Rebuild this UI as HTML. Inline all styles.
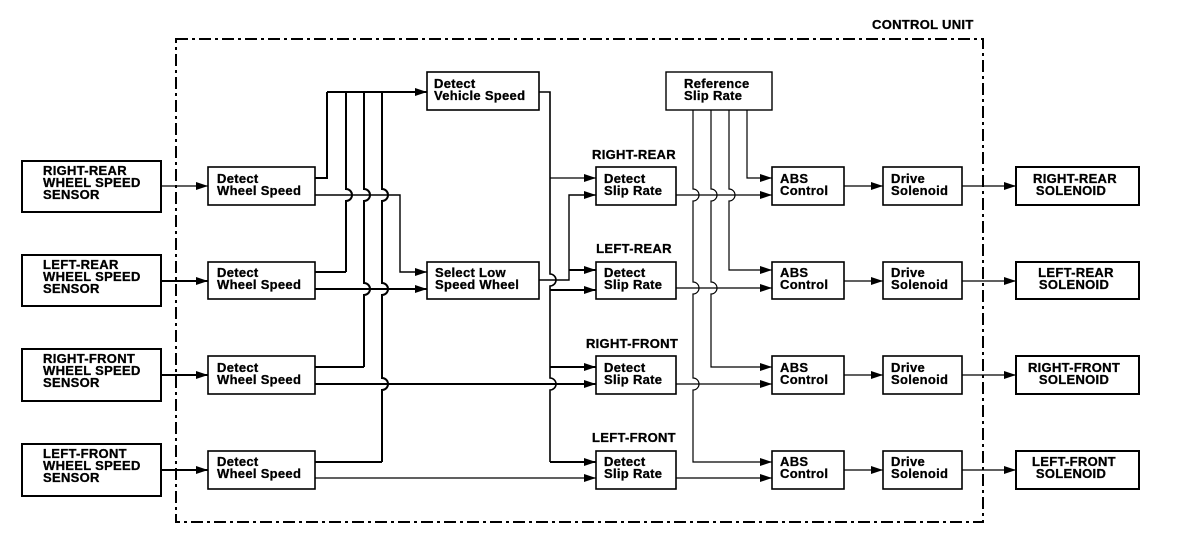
<!DOCTYPE html>
<html><head><meta charset="utf-8"><style>
html,body{margin:0;padding:0;background:#fff;}
svg{display:block;}
text{font-family:"Liberation Sans",sans-serif;font-weight:bold;font-size:13px;fill:#000;stroke:#000;stroke-width:0.3px;letter-spacing:0.3px;}
</style></head><body>
<svg width="1184" height="552" viewBox="0 0 1184 552" xmlns="http://www.w3.org/2000/svg">
<defs>
<marker id="a" viewBox="0 0 12 8" refX="12" refY="4" markerWidth="12" markerHeight="8" markerUnits="userSpaceOnUse" orient="auto"><polygon points="0,0 12,4 0,8" fill="#000"/></marker>
</defs>
<rect x="0" y="0" width="1184" height="552" fill="#fff"/>
<rect x="176" y="39" width="807" height="483" fill="none" stroke="#000" stroke-width="2" stroke-dasharray="12,4,3,4"/>
<text x="872" y="29">CONTROL UNIT</text>

<g fill="none" stroke="#000" stroke-width="2">
<rect x="22" y="161" width="139" height="51"/>
<rect x="22" y="255" width="139" height="51"/>
<rect x="22" y="349" width="139" height="52"/>
<rect x="22" y="444" width="139" height="52"/>
<rect x="208" y="167" width="107" height="38" stroke-width="1.6"/>
<rect x="208" y="262" width="107" height="37" stroke-width="1.6"/>
<rect x="208" y="356" width="107" height="38" stroke-width="1.6"/>
<rect x="208" y="451" width="107" height="38" stroke-width="1.6"/>
<rect x="427" y="72" width="112" height="38" stroke-width="1.6"/>
<rect x="427" y="262" width="112" height="37" stroke-width="1.6"/>
<rect x="666" y="72" width="106" height="38" stroke-width="1.4"/>
<rect x="596" y="167" width="80" height="38" stroke-width="1.6"/>
<rect x="596" y="262" width="80" height="37" stroke-width="1.6"/>
<rect x="596" y="356" width="80" height="38" stroke-width="1.6"/>
<rect x="596" y="451" width="80" height="38" stroke-width="1.6"/>
<rect x="772" y="167" width="72" height="38" stroke-width="1.6"/>
<rect x="772" y="262" width="72" height="37" stroke-width="1.6"/>
<rect x="772" y="356" width="72" height="38" stroke-width="1.6"/>
<rect x="772" y="451" width="72" height="38" stroke-width="1.6"/>
<rect x="883" y="167" width="79" height="38" stroke-width="1.6"/>
<rect x="883" y="262" width="79" height="37" stroke-width="1.6"/>
<rect x="883" y="356" width="79" height="38" stroke-width="1.6"/>
<rect x="883" y="451" width="79" height="38" stroke-width="1.6"/>
<rect x="1016" y="167" width="123" height="38"/>
<rect x="1016" y="262" width="123" height="37"/>
<rect x="1016" y="356" width="123" height="38"/>
<rect x="1016" y="451" width="123" height="38"/>
</g>

<g fill="none" stroke="#000" stroke-width="2">
<line x1="161" y1="186" x2="208" y2="186" stroke-width="1.2" marker-end="url(#a)"/>
<line x1="161" y1="281" x2="208" y2="281" marker-end="url(#a)"/>
<line x1="161" y1="375" x2="208" y2="375" marker-end="url(#a)"/>
<line x1="161" y1="470" x2="208" y2="470" marker-end="url(#a)"/>

<polyline points="315,178 327,178 327,92"/>
<polyline points="315,272 346,272"/>
<polyline points="315,367 364,367"/>
<polyline points="315,462 382,462"/>
<line x1="327" y1="92" x2="427" y2="92" marker-end="url(#a)"/>
<path d="M346,92 V189 A6,6 0 0 1 346,201 V272"/>
<path d="M364,92 V189 A6,6 0 0 1 364,201 V283 A6,6 0 0 1 364,295 V367"/>
<path d="M382,92 V189 A6,6 0 0 1 382,201 V283 A6,6 0 0 1 382,295 V378 A6,6 0 0 1 382,390 V462"/>

<polyline points="315,195 400,195 400,272 427,272" stroke-width="1.4" marker-end="url(#a)"/>
<line x1="315" y1="289" x2="427" y2="289" marker-end="url(#a)"/>
<line x1="315" y1="384" x2="596" y2="384" marker-end="url(#a)"/>
<line x1="315" y1="478" x2="596" y2="478" stroke-width="1.2" marker-end="url(#a)"/>

<path d="M539,92 H550 V274 A6,6 0 0 1 550,286 V378 A6,6 0 0 1 550,390 V462" stroke-width="1.6"/>
<line x1="550" y1="178" x2="596" y2="178" stroke-width="1.2" marker-end="url(#a)"/>
<line x1="550" y1="290" x2="596" y2="290" marker-end="url(#a)"/>
<line x1="550" y1="367" x2="596" y2="367" marker-end="url(#a)"/>
<line x1="550" y1="462" x2="596" y2="462" marker-end="url(#a)"/>
<polyline points="539,280 569,280 569,195 596,195" stroke-width="1.4" marker-end="url(#a)"/>
<line x1="569" y1="270" x2="596" y2="270" marker-end="url(#a)"/>

<g stroke-width="1.2">
<polyline points="747,110 747,178 772,178" marker-end="url(#a)"/>
<path d="M729,110 V189 A6,6 0 0 1 729,201 V270 H772" marker-end="url(#a)"/>
<path d="M711,110 V189 A6,6 0 0 1 711,201 V282 A6,6 0 0 1 711,294 V367 H772" marker-end="url(#a)"/>
<path d="M693,110 V189 A6,6 0 0 1 693,201 V282 A6,6 0 0 1 693,294 V378 A6,6 0 0 1 693,390 V462 H772" marker-end="url(#a)"/>
<line x1="676" y1="195" x2="772" y2="195" marker-end="url(#a)"/>
<line x1="676" y1="288" x2="772" y2="288" marker-end="url(#a)"/>
<line x1="676" y1="384" x2="772" y2="384" marker-end="url(#a)"/>
<line x1="676" y1="478" x2="772" y2="478" marker-end="url(#a)"/>
<line x1="844" y1="186" x2="883" y2="186" marker-end="url(#a)"/>
<line x1="844" y1="281" x2="883" y2="281" marker-end="url(#a)"/>
<line x1="844" y1="375" x2="883" y2="375" marker-end="url(#a)"/>
<line x1="844" y1="470" x2="883" y2="470" marker-end="url(#a)"/>
<line x1="962" y1="186" x2="1016" y2="186" marker-end="url(#a)"/>
<line x1="962" y1="281" x2="1016" y2="281" marker-end="url(#a)"/>
<line x1="962" y1="375" x2="1016" y2="375" marker-end="url(#a)"/>
<line x1="962" y1="470" x2="1016" y2="470" marker-end="url(#a)"/>
</g>
</g>

<text x="43" y="175">RIGHT-REAR</text><text x="43" y="187">WHEEL SPEED</text><text x="43" y="199">SENSOR</text>
<text x="43" y="269">LEFT-REAR</text><text x="43" y="281">WHEEL SPEED</text><text x="43" y="293">SENSOR</text>
<text x="43" y="363">RIGHT-FRONT</text><text x="43" y="375">WHEEL SPEED</text><text x="43" y="387">SENSOR</text>
<text x="43" y="458">LEFT-FRONT</text><text x="43" y="470">WHEEL SPEED</text><text x="43" y="482">SENSOR</text>
<text x="217" y="183">Detect</text><text x="217" y="195">Wheel Speed</text>
<text x="217" y="277">Detect</text><text x="217" y="289">Wheel Speed</text>
<text x="217" y="372">Detect</text><text x="217" y="384">Wheel Speed</text>
<text x="217" y="466">Detect</text><text x="217" y="478">Wheel Speed</text>
<text x="434" y="88">Detect</text><text x="434" y="100">Vehicle Speed</text>
<text x="435" y="277">Select Low</text><text x="435" y="289">Speed Wheel</text>
<text x="684" y="88">Reference</text><text x="684" y="100">Slip Rate</text>
<text x="634" y="159" text-anchor="middle">RIGHT-REAR</text>
<text x="634" y="253" text-anchor="middle">LEFT-REAR</text>
<text x="632" y="348" text-anchor="middle">RIGHT-FRONT</text>
<text x="634" y="442" text-anchor="middle">LEFT-FRONT</text>
<text x="604" y="183">Detect</text><text x="604" y="195">Slip Rate</text>
<text x="604" y="277">Detect</text><text x="604" y="289">Slip Rate</text>
<text x="604" y="372">Detect</text><text x="604" y="384">Slip Rate</text>
<text x="604" y="466">Detect</text><text x="604" y="478">Slip Rate</text>
<text x="780" y="183">ABS</text><text x="780" y="195">Control</text>
<text x="780" y="277">ABS</text><text x="780" y="289">Control</text>
<text x="780" y="372">ABS</text><text x="780" y="384">Control</text>
<text x="780" y="466">ABS</text><text x="780" y="478">Control</text>
<text x="891" y="183">Drive</text><text x="891" y="195">Solenoid</text>
<text x="891" y="277">Drive</text><text x="891" y="289">Solenoid</text>
<text x="891" y="372">Drive</text><text x="891" y="384">Solenoid</text>
<text x="891" y="466">Drive</text><text x="891" y="478">Solenoid</text>
<g text-anchor="middle">
<text x="1075" y="183">RIGHT-REAR</text><text x="1071" y="195">SOLENOID</text>
<text x="1076" y="277">LEFT-REAR</text><text x="1074" y="289">SOLENOID</text>
<text x="1074" y="372">RIGHT-FRONT</text><text x="1074" y="384">SOLENOID</text>
<text x="1074" y="466">LEFT-FRONT</text><text x="1071" y="478">SOLENOID</text>
</g>
</svg>
</body></html>
